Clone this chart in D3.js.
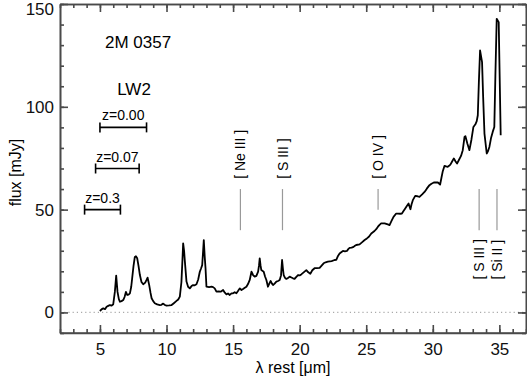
<!DOCTYPE html>
<html>
<head>
<meta charset="utf-8">
<script src="https://cdn.jsdelivr.net/npm/d3@7"></script>
<style>
  body { margin: 0; background: #fff; }
  text { font-family: "Liberation Sans", Arial, Helvetica, sans-serif; }
</style>
</head>
<body>
<svg></svg>
<script>
// spectrum (rest wavelength in micron, flux in mJy)
let wave = [5.0, 5.12, 5.25, 5.38, 5.5, 5.62, 5.75, 5.88, 6.0, 6.12, 6.22, 6.32, 6.42, 6.5, 6.62, 6.75, 6.85, 6.95,
    7.05, 7.15, 7.25, 7.35, 7.42, 7.52, 7.62, 7.7, 7.8, 7.9, 8.0, 8.12, 8.25, 8.4, 8.5, 8.58, 8.7, 8.8, 8.88, 9.0,
    9.12, 9.3, 9.5, 9.62, 9.75, 9.88, 10.0, 10.2, 10.38, 10.55, 10.75, 10.88, 11.0, 11.12, 11.2, 11.25, 11.32, 11.38,
    11.5, 11.62, 11.75, 11.88, 12.0, 12.12, 12.25, 12.38, 12.5, 12.6, 12.68, 12.75, 12.8, 12.87, 12.93, 13.0, 13.2,
    13.38, 13.5, 13.62, 13.75, 13.9, 14.07, 14.25, 14.38, 14.5, 14.62, 14.75, 14.88, 15.0, 15.12, 15.25, 15.38, 15.5,
    15.63, 15.75, 15.88, 16.0, 16.12, 16.25, 16.38, 16.5, 16.62, 16.75, 16.88, 16.95, 17.0, 17.06, 17.12, 17.3, 17.4,
    17.5, 17.62, 17.72, 17.82, 17.92, 18.0, 18.12, 18.25, 18.38, 18.5, 18.6, 18.68, 18.74, 18.8, 18.9, 19.0, 19.12,
    19.25, 19.38, 19.5, 19.62, 19.75, 19.88, 20.0, 20.12, 20.3, 20.5, 20.65, 20.8, 20.95, 21.12, 21.3, 21.5, 21.65,
    21.8, 21.95, 22.12, 22.4, 22.62, 22.75, 22.88, 23.0, 23.12, 23.25, 23.4, 23.55, 23.65, 23.75, 23.9, 24.05, 24.15,
    24.25, 24.5, 24.7, 24.88, 25.05, 25.2, 25.38, 25.5, 25.62, 25.75, 25.88, 26.0, 26.12, 26.38, 26.62, 26.75, 26.9,
    27.05, 27.25, 27.38, 27.55, 27.68, 27.8, 27.93, 28.05, 28.18, 28.25, 28.32, 28.4, 28.5, 28.68, 28.85, 29.0, 29.2,
    29.38, 29.55, 29.75, 29.9, 30.08, 30.25, 30.38, 30.55, 30.65, 30.75, 30.88, 31.0, 31.12, 31.22, 31.32, 31.45,
    31.58, 31.7, 31.82, 31.95, 32.12, 32.25, 32.38, 32.45, 32.6, 32.75, 32.9, 33.05, 33.2, 33.3, 33.38, 33.46, 33.55,
    33.7, 33.78, 33.88, 34.05, 34.15, 34.25, 34.38, 34.5, 34.62, 34.7, 34.8, 34.95, 35.1];
let flux = [0.7, 1.5, 2, 1.6, 2.8, 3.2, 3.6, 3.3, 4, 10, 17.9, 10, 6.5, 5.2, 5.5, 6, 7.5, 10,
    8.5, 8.7, 9.3, 12.5, 16.6, 22.5, 27, 27.3, 26.3, 22.5, 18.2, 14.8, 13.7, 14.5, 15.8, 16.9, 13.3, 9.5, 6.9, 5.5,
    4.5, 3.9, 3.6, 3.7, 4.3, 3.6, 3.3, 3.4, 3.6, 4.5, 5.6, 6.3, 7.7, 14.8, 26, 33.6, 30, 24.7,
    15, 12.5, 11.7, 12.8, 13.3, 13.2, 13.7, 16, 19.8, 21.5, 23, 30, 35.2, 27, 21.5, 12.5, 12.3,
    12.5, 12.3, 11.7, 10.1, 10.2, 10.1, 10.9, 9.6, 8.8, 9.2, 8.5, 9.3, 9.3, 9.8, 9.3, 10.5, 11.7,
    10.9, 11.4, 12, 12.5, 13.8, 15.8, 19.8, 18.2, 17.4, 17.8, 19.8, 23, 26.3, 23, 20.6, 19.8, 17.5,
    15.8, 12.5, 14, 15.3, 14, 13.3, 14, 15, 15.3, 15.8, 18, 25.5, 21.5, 18.2, 16.8, 16.3, 16.8,
    17.4, 17, 16.6, 16.3, 17.3, 18.2, 18, 18.5, 19.5, 20.6, 19.5, 18.8, 20.5, 21.5, 21.6, 21.7, 22.8,
    23.9, 24.4, 24.7, 25, 25.5, 25.6, 27.5, 28.7, 29.3, 29.9, 29.7, 29.9, 30.8, 31.4, 31.5, 31.9, 32.4,
    32.8, 33.1, 34.2, 35.2, 36, 36.8, 38.4, 39, 39.6, 40.5, 41.7, 42.6, 43.3, 43.3, 42.8, 42.5, 44.5,
    46.5, 48.1, 48.1, 48, 48.1, 49.3, 50.6, 51.8, 53, 51.5, 50.2, 52.5, 54.6, 56.7, 56.5, 56.2, 57.4,
    58.6, 60.2, 61.9, 62.6, 63.2, 63.3, 63.2, 62.2, 65.5, 68.7, 71.3, 71, 70.8, 71.3, 71.9, 73.4,
    74.9, 73.5, 72.4, 74, 76.1, 78.9, 85.3, 85.7, 82, 78.9, 84, 90.2, 91.5, 93, 95.9, 112, 127.4,
    121.7, 105, 87, 77.3, 78.5, 80.5, 85, 87.8, 90.2, 115, 142.8, 141.2, 86.2];

// emission lines (micron)
let lineNames = ['[ Ne III ]', '[ S III ]', '[ O IV ]', '[ S III ]', '[ Si II ]'];
let lineWaves = [15.55, 18.71, 25.89, 33.48, 34.82];

// LW2 filter (5 - 8.5 micron) shifted to rest frame for each redshift
let lw2Band = [5.0, 8.5];
let redshifts = ['0.00', '0.07', '0.3'];
let barLevels = [90, 70, 50];

let width = 527;
let height = 378;
let margin = {top: 4, right: 1, bottom: 45, left: 60};

let x = d3.scaleLinear().domain([2, 37]).range([margin.left, width - margin.right]);
let y = d3.scaleLinear().domain([-10, 150]).range([height - margin.bottom, margin.top]);

let svg = d3.select('svg')
    .attr('width', width)
    .attr('height', height);

let frameColor = '#4a4a4a';

// zero level
svg.append('line')
    .attr('x1', x(2)).attr('x2', x(37))
    .attr('y1', y(0)).attr('y2', y(0))
    .attr('stroke', '#aaa')
    .attr('stroke-width', 1.2)
    .attr('stroke-dasharray', '1.2,3');

// frame + ticks, all ticks pointing inwards
function styleAxis(g) {
    g.selectAll('path, line').attr('stroke', frameColor).attr('stroke-width', 1.6);
    g.selectAll('text').attr('font-size', 17).attr('fill', '#111')
        .style('font-family', '"Liberation Sans", Arial, sans-serif');
}

let xMajor = d3.range(5, 36, 5);
let xMinor = d3.range(2, 38, 1);
let yMajor = [0, 50, 100, 150];
let yMinor = d3.range(-10, 151, 10);

svg.append('g')
    .attr('transform', `translate(0 ${y(-10)})`)
    .call(d3.axisBottom(x).tickValues(xMajor).tickSize(-8).tickSizeOuter(0).tickPadding(10).tickFormat(d3.format('d')))
    .call(styleAxis)
    .call(g => g.select('.domain').attr('d', `M${x(2)},0H${x(37)}`));
svg.append('g')
    .attr('transform', `translate(0 ${y(-10)})`)
    .call(d3.axisBottom(x).tickValues(xMinor).tickSize(-4).tickSizeOuter(0).tickFormat(''))
    .call(styleAxis);
svg.append('g')
    .attr('transform', `translate(0 ${y(150)})`)
    .call(d3.axisTop(x).tickValues(xMajor).tickSize(-8).tickSizeOuter(0).tickFormat(''))
    .call(styleAxis);
svg.append('g')
    .attr('transform', `translate(0 ${y(150)})`)
    .call(d3.axisTop(x).tickValues(xMinor).tickSize(-4).tickSizeOuter(0).tickFormat(''))
    .call(styleAxis);

svg.append('g')
    .attr('transform', `translate(${x(2)} 0)`)
    .call(d3.axisLeft(y).tickValues(yMajor).tickSize(-8).tickSizeOuter(0).tickPadding(6).tickFormat(d3.format('d')))
    .call(styleAxis)
    // keep the top label inside the picture
    .call(g => g.selectAll('.tick text').filter(d => d === 150).attr('dy', '0.64em'));
svg.append('g')
    .attr('transform', `translate(${x(2)} 0)`)
    .call(d3.axisLeft(y).tickValues(yMinor).tickSize(-4).tickSizeOuter(0).tickFormat(''))
    .call(styleAxis);
svg.append('g')
    .attr('transform', `translate(${x(37)} 0)`)
    .call(d3.axisRight(y).tickValues(yMajor).tickSize(-8).tickSizeOuter(0).tickFormat(''))
    .call(styleAxis);
svg.append('g')
    .attr('transform', `translate(${x(37)} 0)`)
    .call(d3.axisRight(y).tickValues(yMinor).tickSize(-4).tickSizeOuter(0).tickFormat(''))
    .call(styleAxis);

// axis titles
svg.append('text')
    .attr('x', (x(2) + x(37)) / 2)
    .attr('y', 373)
    .attr('text-anchor', 'middle')
    .attr('font-size', 16)
    .text('λ rest  [μm]');
svg.append('text')
    .attr('transform', `translate(21 ${(y(-10) + y(150)) / 2 + 4}) rotate(-90)`)
    .attr('text-anchor', 'middle')
    .attr('font-size', 16)
    .text('flux [mJy]');

// spectrum
let spec = wave.map((w, i) => ({w: w, f: flux[i]}));
svg.append('path')
    .datum(spec)
    .attr('fill', 'none')
    .attr('stroke', '#000')
    .attr('stroke-width', 1.8)
    .attr('stroke-linejoin', 'round')
    .attr('d', d3.line().x(d => x(d.w)).y(d => y(d.f)));

// line markers: first three above the spectrum, last two below
let lines = lineNames.map((name, i) => ({name: name, w: lineWaves[i], below: i >= 3}));
let marks = svg.append('g').selectAll('g')
    .data(lines)
    .enter()
    .append('g');

marks.append('line')
    .attr('x1', d => x(d.w)).attr('x2', d => x(d.w))
    .attr('y1', y(60))
    .attr('y2', d => d.name === '[ O IV ]' ? y(50) : y(40))
    .attr('stroke', '#999')
    .attr('stroke-width', 1.2);

marks.append('text')
    .attr('transform', d => `translate(${x(d.w)} ${d.below ? y(16) : y(65)}) rotate(-90)`)
    .attr('dy', '0.36em')
    .attr('font-size', 14)
    .text(d => d.name);

// labels
svg.append('text')
    .attr('x', 105).attr('y', 48)
    .attr('font-size', 17)
    .text('2M 0357');
svg.append('text')
    .attr('x', 134).attr('y', 95)
    .attr('text-anchor', 'middle')
    .attr('font-size', 17)
    .text('LW2');

// LW2 band at the three redshifts
let bars = redshifts.map((z, i) => ({
    z: z,
    lo: lw2Band[0] / (1 + +z),
    hi: lw2Band[1] / (1 + +z),
    level: barLevels[i]
}));
let bar = svg.append('g').selectAll('g')
    .data(bars)
    .enter()
    .append('g')
    .attr('stroke', '#000')
    .attr('stroke-width', 1.6);

bar.append('line')
    .attr('x1', d => x(d.lo)).attr('x2', d => x(d.hi))
    .attr('y1', d => y(d.level)).attr('y2', d => y(d.level));
bar.append('line')
    .attr('x1', d => x(d.lo)).attr('x2', d => x(d.lo))
    .attr('y1', d => y(d.level) - 5).attr('y2', d => y(d.level) + 5);
bar.append('line')
    .attr('x1', d => x(d.hi)).attr('x2', d => x(d.hi))
    .attr('y1', d => y(d.level) - 5).attr('y2', d => y(d.level) + 5);
bar.append('text')
    .attr('x', d => (x(d.lo) + x(d.hi)) / 2)
    .attr('y', d => y(d.level) - 7)
    .attr('text-anchor', 'middle')
    .attr('stroke', 'none')
    .attr('font-size', 14)
    .text(d => 'z=' + d.z);
</script>
</body>
</html>
